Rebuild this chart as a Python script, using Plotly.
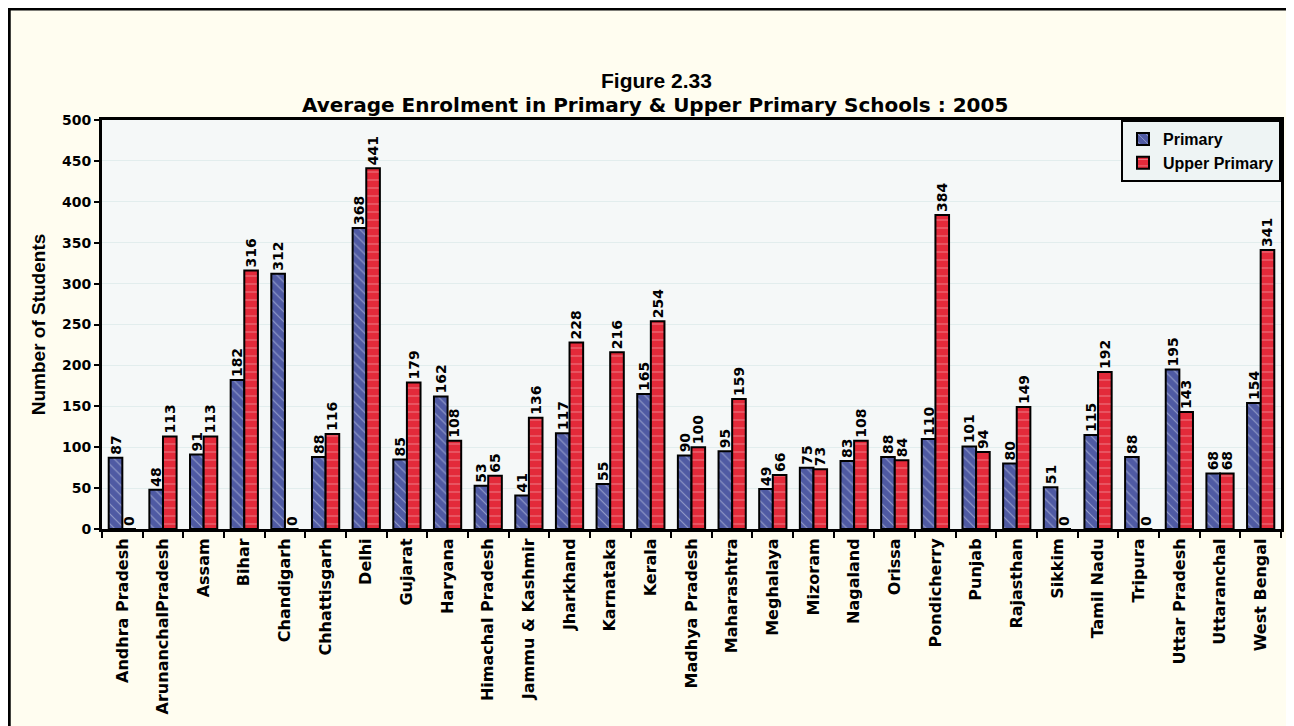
import plotly.graph_objects as go

states = ["Andhra Pradesh", "ArunanchalPradesh", "Assam", "Bihar", "Chandigarh", "Chhattisgarh",
          "Delhi", "Gujarat", "Haryana", "Himachal Pradesh", "Jammu & Kashmir", "Jharkhand",
          "Karnataka", "Kerala", "Madhya Pradesh", "Maharashtra", "Meghalaya", "Mizoram",
          "Nagaland", "Orissa", "Pondicherry", "Punjab", "Rajasthan", "Sikkim", "Tamil Nadu",
          "Tripura", "Uttar Pradesh", "Uttaranchal", "West Bengal"]
primary = [87, 48, 91, 182, 312, 88, 368, 85, 162, 53, 41, 117, 55, 165, 90, 95, 49, 75,
           83, 88, 110, 101, 80, 51, 115, 88, 195, 68, 154]
upper_primary = [0, 113, 113, 316, 0, 116, 441, 179, 108, 65, 136, 228, 216, 254, 100, 159,
                 66, 73, 108, 84, 384, 94, 149, 0, 192, 0, 143, 68, 341]
y_ticks = [0, 50, 100, 150, 200, 250, 300, 350, 400, 450, 500]

ARIAL = "Liberation Sans, Arial, sans-serif"
WIDE = "DejaVu Sans, Verdana, sans-serif"

fig = go.Figure()
fig.add_trace(go.Bar(
    x=states, y=primary, name="Primary",
    marker=dict(color="#4F5AA3", line=dict(color="black", width=2),
                pattern=dict(shape="\\", fgcolor="#DDE2F0", size=7, solidity=0.15)),
    text=primary, textposition="outside", textangle=-90, cliponaxis=False,
    textfont=dict(family=WIDE, size=14, color="black", weight="bold"),
))
fig.add_trace(go.Bar(
    x=states, y=upper_primary, name="Upper Primary",
    marker=dict(color="#E32A3A", line=dict(color="black", width=2),
                pattern=dict(shape="-", fgcolor="#F6D9DB", size=8, solidity=0.12)),
    text=upper_primary, textposition="outside", textangle=-90, cliponaxis=False,
    textfont=dict(family=WIDE, size=14, color="black", weight="bold"),
))

W, H = 1286, 718
L, R, T, B = 94, 10, 112, 197
pw, ph = W - L - R, H - T - B

def px(x):
    return (x - L) / pw

def py(y):
    return (H - B - y) / ph

fig.update_layout(
    width=W, height=H,
    margin=dict(l=L, r=R, t=T, b=B),
    paper_bgcolor="#FFFDF0",
    plot_bgcolor="#F5F8F8",
    barmode="group", bargap=0.33, bargroupgap=0,
    font=dict(family=ARIAL, size=13, color="black"),
    showlegend=True,
    legend=dict(x=1, y=1, xanchor="right", yanchor="top",
                bgcolor="#EEF4F4", bordercolor="black", borderwidth=2,
                font=dict(family=ARIAL, size=16, weight="bold"),
                itemwidth=30, tracegroupgap=0),
    uniformtext=dict(minsize=14, mode="show"),
)
fig.update_xaxes(
    type="category", tickangle=-90, tickson="boundaries", ticks="outside", ticklen=6,
    tickcolor="black", tickwidth=2,
    tickfont=dict(family=WIDE, size=16, weight="bold"),
    showline=True, linecolor="black", linewidth=3, mirror=True,
    showgrid=False,
)
fig.update_yaxes(
    range=[0, 500], tickvals=y_ticks, ticks="outside", ticklen=5, tickcolor="black", tickwidth=2,
    tickfont=dict(family=WIDE, size=14, weight="bold"),
    showline=True, linecolor="black", linewidth=3, mirror=True,
    showgrid=True, gridcolor="#E2EDED", gridwidth=1, zeroline=False,
    title=dict(text="Number of Students", standoff=12,
               font=dict(family=ARIAL, size=19, weight="bold")),
)

fig.add_annotation(text="Figure 2.33", xref="paper", yref="paper", x=px(650), y=py(72),
                   xanchor="center", yanchor="middle",
                   showarrow=False, font=dict(family=ARIAL, size=21, weight="bold"))
fig.add_annotation(text="Average Enrolment in Primary & Upper Primary Schools : 2005",
                   xref="paper", yref="paper", x=px(648), y=py(97),
                   xanchor="center", yanchor="middle",
                   showarrow=False, font=dict(family=WIDE, size=20, weight="bold"))

# outer frame of the figure
fig.add_shape(type="rect", xref="paper", yref="paper",
              x0=px(1), y0=py(H + 20), x1=px(W + 20), y1=py(1),
              line=dict(color="black", width=3), fillcolor="rgba(0,0,0,0)", layer="above")

fig.write_html("out.html")
